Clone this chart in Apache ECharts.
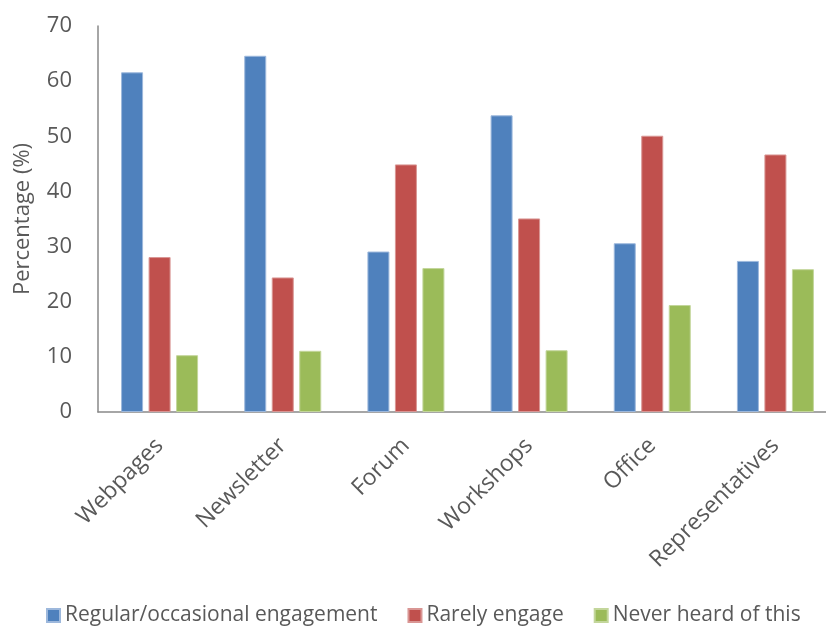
<!DOCTYPE html>
<html>
<head>
<meta charset="utf-8">
<script src="https://cdn.jsdelivr.net/npm/echarts@6/dist/echarts.min.js"></script>
<style>
  html, body { margin: 0; padding: 0; background: #ffffff; overflow: hidden; }
  /* canvas runs a little past the right edge so the last category keeps full width */
  #chart { width: 840px; height: 626px; }
</style>
</head>
<body>
<div id="chart"></div>
<script>
// Engagement channels and survey shares (%)
const categories = ['Webpages', 'Newsletter', 'Forum', 'Workshops', 'Office', 'Representatives'];
const regularEngagement = [61.6, 64.6, 29.1, 53.8, 30.6, 27.4];
const rarelyEngage = [28.1, 24.4, 44.9, 35.1, 50.1, 46.7];
const neverHeard = [10.3, 11.1, 26.1, 11.2, 19.4, 25.9];
const seriesNames = ['Regular/occasional engagement', 'Rarely engage', 'Never heard of this'];
const yTicks = { min: 0, max: 70, interval: 10 };

const textColor = '#595959';
const fontFamily = '"Open Sans", "DejaVu Sans", sans-serif';
const colors = ['#4F81BD', '#C0504D', '#9BBB59'];
const borders = ['#9db8dc', '#d99694', '#c3d69b'];

const chart = echarts.init(document.getElementById('chart'), null, { renderer: 'canvas' });

function barSeries(name, data, i) {
  return {
    name: name,
    type: 'bar',
    data: data,
    barWidth: 22,
    barGap: '25%',
    itemStyle: { color: colors[i], borderColor: borders[i], borderWidth: 1 },
    emphasis: { disabled: true }
  };
}

chart.setOption({
  animation: false,
  backgroundColor: '#ffffff',
  textStyle: { fontFamily: fontFamily },
  grid: { left: 98, top: 26, width: 739, bottom: 214, containLabel: false },
  legend: {
    top: 600,
    left: 41,
    itemWidth: 13,
    itemHeight: 13,
    itemGap: 30,
    icon: 'rect',
    textStyle: { color: textColor, fontSize: 21, fontFamily: fontFamily },
    data: seriesNames
  },
  xAxis: {
    type: 'category',
    data: categories,
    axisLine: { lineStyle: { color: '#898989', width: 1.5 } },
    axisTick: { show: false },
    axisLabel: { rotate: 45, color: textColor, fontSize: 23, margin: 30, interval: 0 }
  },
  yAxis: {
    type: 'value',
    min: yTicks.min,
    max: yTicks.max,
    interval: yTicks.interval,
    name: 'Percentage (%)',
    nameLocation: 'middle',
    nameGap: 64,
    nameTextStyle: { color: textColor, fontSize: 22 },
    axisLine: { show: true, lineStyle: { color: '#898989', width: 1.5 } },
    axisTick: { show: false },
    splitLine: { show: false },
    axisLabel: { color: textColor, fontSize: 22, margin: 26 }
  },
  series: [
    barSeries(seriesNames[0], regularEngagement, 0),
    barSeries(seriesNames[1], rarelyEngage, 1),
    barSeries(seriesNames[2], neverHeard, 2)
  ]
});
</script>
</body>
</html>
